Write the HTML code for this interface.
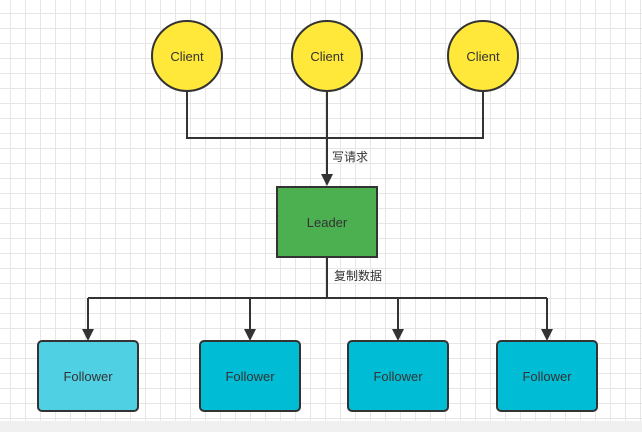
<!DOCTYPE html>
<html><head><style>
body{margin:0;width:642px;height:432px;overflow:hidden;background:#fff;
background-image:linear-gradient(#e6e6e6 1px,transparent 1px),linear-gradient(90deg,#e6e6e6 1px,transparent 1px);background-size:15px 15px;background-position:-5px -2px;}
</style></head><body>
<svg width="642" height="432" style="position:absolute;left:0;top:0" font-family="Liberation Sans, Noto Sans CJK SC, sans-serif">
<defs><marker id="a" markerWidth="10" markerHeight="10" refX="5" refY="9" orient="auto" markerUnits="userSpaceOnUse"><path d="M0,0 L10,0 L5,10 z" fill="#333" transform="rotate(-90 5 5) rotate(90 5 5)"/></marker></defs>
<g stroke="#333" stroke-width="2" fill="none">
<path d="M187,91 V138 H483 V91 M327,91 V138"/>
<path d="M327,138 V176"/>
<path d="M327,257 V298 M88,298 H547 M88,298 V330 M250,298 V330 M398,298 V330 M547,298 V330"/>
</g>
<g fill="#333">
<path d="M321,174 L333,174 L327,186 z"/>
<path d="M82,329 L94,329 L88,341 z"/>
<path d="M244,329 L256,329 L250,341 z"/>
<path d="M392,329 L404,329 L398,341 z"/>
<path d="M541,329 L553,329 L547,341 z"/>
</g>
<g fill="#ffe83a" stroke="#333" stroke-width="2">
<circle cx="187" cy="56" r="35"/><circle cx="327" cy="56" r="35"/><circle cx="483" cy="56" r="35"/>
</g>
<rect x="277" y="187" width="100" height="70" fill="#4caf50" stroke="#333" stroke-width="2"/>
<rect x="38" y="341" width="100" height="70" rx="4" fill="#4fd1e3" stroke="#333" stroke-width="2"/>
<rect x="200" y="341" width="100" height="70" rx="4" fill="#00bcd4" stroke="#333" stroke-width="2"/>
<rect x="348" y="341" width="100" height="70" rx="4" fill="#00bcd4" stroke="#333" stroke-width="2"/>
<rect x="497" y="341" width="100" height="70" rx="4" fill="#00bcd4" stroke="#333" stroke-width="2"/>
<g font-size="13" fill="#333" text-anchor="middle">
<text x="187" y="61">Client</text><text x="327" y="61">Client</text><text x="483" y="61">Client</text>
<text x="327" y="227">Leader</text>
<text x="88" y="381">Follower</text><text x="250" y="381">Follower</text><text x="398" y="381">Follower</text><text x="547" y="381">Follower</text>
</g>
<g font-size="12" fill="#333">
<text x="332" y="161">写请求</text><text x="334" y="280">复制数据</text>
</g>
<rect x="0" y="421" width="642" height="11" fill="#f0f0f0"/>
</svg>
</body></html>
